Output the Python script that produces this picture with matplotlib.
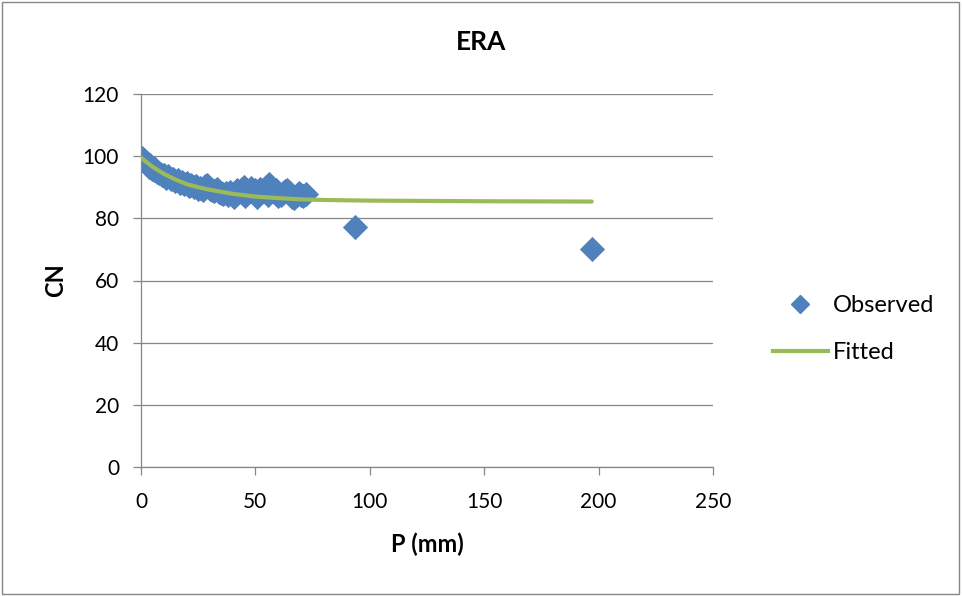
import matplotlib
matplotlib.use("Agg")
import matplotlib.pyplot as plt
from matplotlib.patches import Rectangle
from matplotlib.lines import Line2D

plt.rcParams['font.family'] = ['Lato', 'DejaVu Sans']

obs_p = [0.5, 1, 1.5, 2, 3, 3.5, 4, 5, 5.5, 6, 7, 8, 9, 10, 11, 12, 13, 14, 15, 16,
         17, 18, 19, 20, 21, 22, 23, 24, 25, 26, 27, 28, 29, 30, 31, 32, 33, 34, 35, 36,
         37, 38, 39, 40, 41, 42, 43, 44, 45, 46, 47, 48, 49, 50, 51, 52, 53, 54, 55, 56,
         57, 58, 59, 61, 62, 63, 64, 65, 66, 67, 68, 69, 70, 71, 72,
         40.5, 45.5, 50.5, 55.5, 60,
         93.5, 197]
obs_cn = [99.5, 99, 98.5, 98, 97.5, 96.5, 97, 96, 95.5, 95.8, 95, 94.5, 94, 93.8, 93, 93.5, 92.5, 92.8, 92, 92.3,
          91.5, 91.8, 91, 91.5, 90.5, 90.8, 90, 90.5, 89.5, 89.8, 89.2, 90.5, 90.8, 89.5, 89, 88.8, 89.5, 88.5, 88, 87.8,
          88.2, 87.5, 88.5, 87.5, 88, 89, 88.5, 89.5, 90, 89, 88.5, 89.8, 88.5, 89, 88, 89.5, 88.5, 89.5, 90.5, 91,
          89.5, 88.5, 89, 87.5, 88, 88.8, 89, 88, 87, 86.5, 87.5, 88, 87.5, 87.2, 87.8,
          86.8, 87.2, 87, 87.5, 87.3,
          77.2, 70.0]

fit_p = [0, 5, 10, 15, 20, 25, 30, 40, 50, 60, 70, 80, 100, 150, 197]
fit_cn = [99.5, 96.6, 94.3, 92.5, 91.0, 90.0, 89.2, 87.9, 87.0, 86.5, 86.1, 85.9, 85.7, 85.5, 85.4]

fig = plt.figure(figsize=(9.63, 5.96), dpi=100)
ax = fig.add_axes([141/963, 1-467/596, (713-141)/963, (467-94)/596])

ax.plot(fit_p, fit_cn, color='#9BBB59', lw=3, solid_capstyle='round', zorder=3, label='Fitted')
ax.scatter(obs_p, obs_cn, marker='D', s=165, color='#4F81BD', linewidths=0, zorder=2, label='Observed')

ax.set_xlim(0, 250)
ax.set_ylim(0, 120)
ax.set_xticks(range(0, 251, 50))
ax.set_yticks(range(0, 121, 20))
ax.grid(axis='y', color='#868686', lw=0.9)
ax.set_axisbelow(True)
for s in ['top', 'right']:
    ax.spines[s].set_visible(False)
for s in ['left', 'bottom']:
    ax.spines[s].set_color('#868686')
    ax.spines[s].set_linewidth(0.9)
ax.tick_params(axis='both', colors='#868686', length=5.8, width=0.9, labelsize=15, labelcolor='#000000')
ax.tick_params(axis='x', pad=12)
ax.tick_params(axis='y', pad=10)
ax.set_xlabel('P (mm)', fontsize=17, fontweight='bold', labelpad=15)
ax.set_ylabel('CN', fontsize=17, fontweight='bold', labelpad=11)
fig.text(0.5, 1 - 42/596, 'ERA', fontsize=19, fontweight='bold', ha='center', va='center')

handles = [Line2D([], [], marker='D', ls='none', color='#4F81BD', markersize=9),
           Line2D([], [], color='#9BBB59', lw=3)]
fig.legend(handles, ['Observed', 'Fitted'], loc='center left', bbox_to_anchor=(752/963, 1-329/596),
           frameon=False, fontsize=17, handlelength=2.3, labelspacing=1.1, handletextpad=0.22)

fig.patches.append(Rectangle((0.002, 0.004), 0.994, 0.992, transform=fig.transFigure,
                             fill=False, edgecolor='#868686', lw=1))

fig.savefig('out.png', dpi=100)
